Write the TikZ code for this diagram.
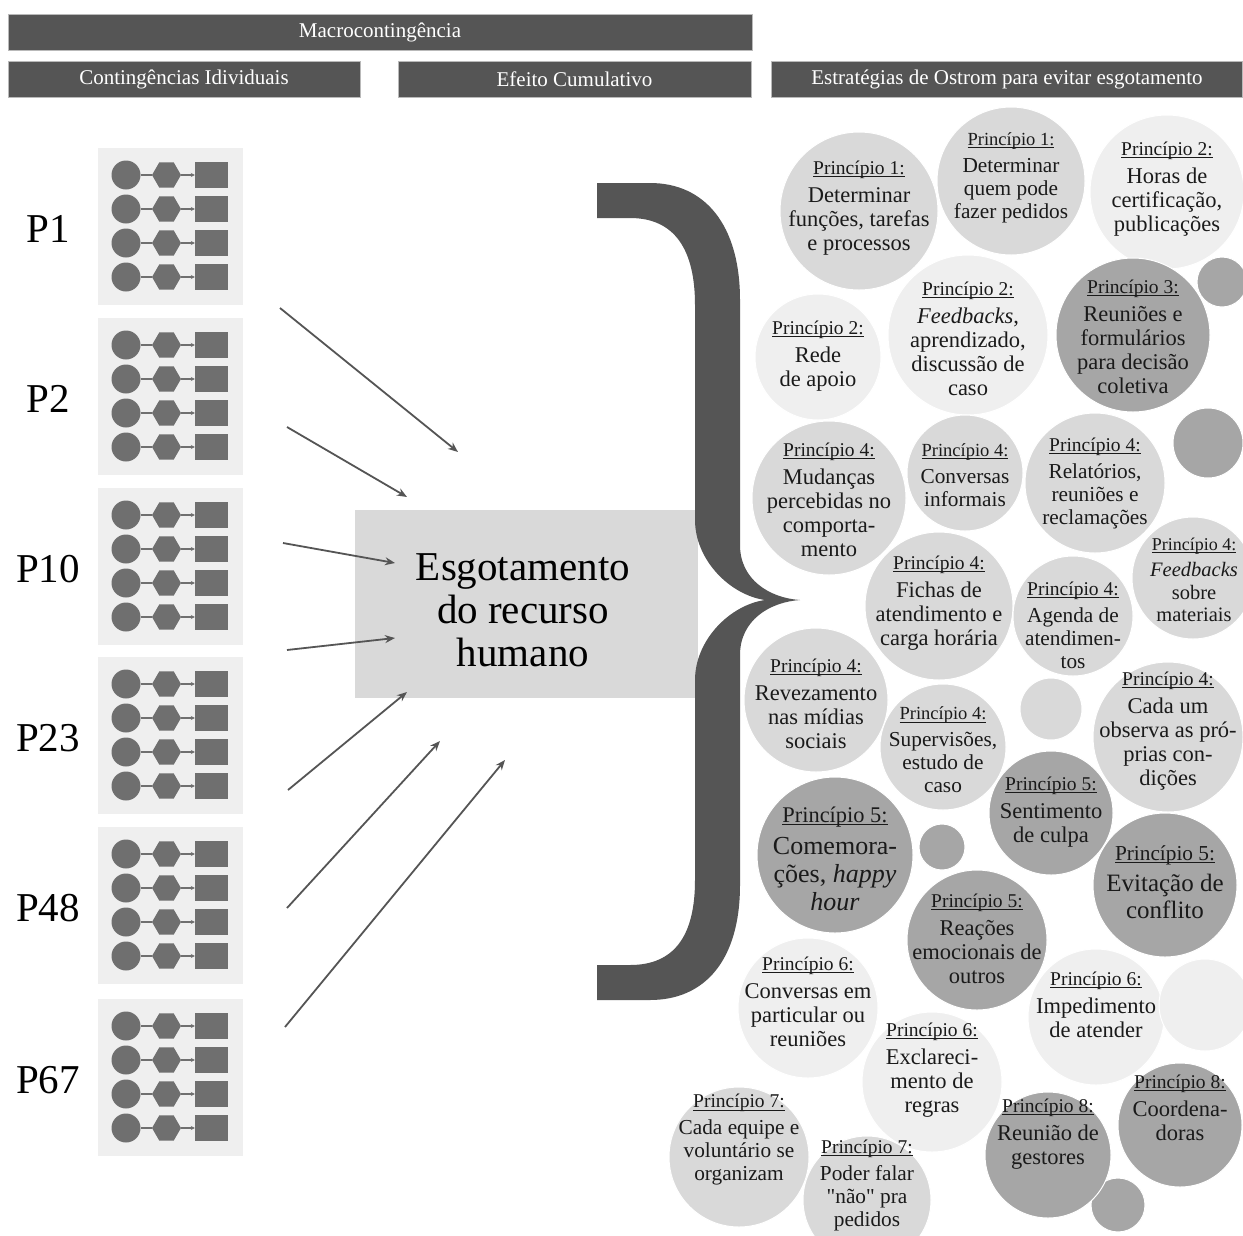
\documentclass[tikz,border=0pt]{standalone}
\usepackage{fontspec}
\setmainfont{Liberation Serif}
\newfontfamily\rawserif{Liberation Serif}
\usetikzlibrary{shapes.geometric,arrows.meta}
\definecolor{dk}{HTML}{555555}
\definecolor{ca}{HTML}{EFEFEF}
\definecolor{cb}{HTML}{D9D9D9}
\definecolor{cc}{HTML}{A6A6A6}
\definecolor{shp}{HTML}{6F6F6F}
\definecolor{pbg}{HTML}{EFEFEF}
\definecolor{txt}{HTML}{1A1A1A}
\newcommand\ulx[1]{\leavevmode\setbox0\hbox{#1}\rlap{\rule[-2.6pt]{\wd0}{0.9pt}}\box0}
\newcommand\ptl[2][19.5]{{\fontsize{#1}{#1}\selectfont\ulx{Princípio #2:}}\\[4pt]}
\newcommand\sq{{\rawserif"}}
\tikzset{
  hdr/.style={rectangle, fill=dk, draw=gray!55, line width=0.8pt, text=white, inner sep=0pt,
    font=\fontsize{21}{23}\selectfont, minimum height=36pt},
  pbox/.style={rectangle, fill=pbg, minimum width=145pt, minimum height=157pt, inner sep=0pt},
  plabel/.style={font=\fontsize{41}{43}\selectfont, inner sep=0pt},
  pc/.style={circle, fill=shp, minimum size=29pt, inner sep=0pt},
  ph/.style={regular polygon, regular polygon sides=6, fill=shp, minimum size=29pt, inner sep=0pt},
  ps/.style={rectangle, fill=shp, minimum width=33pt, minimum height=26pt, inner sep=0pt},
  plink/.style={draw=shp, line width=1.5pt},
  parr/.style={plink, -{Stealth[length=4pt,width=4pt]}},
  bigarr/.style={draw=dk, line width=1.8pt, -{Stealth[length=10pt,width=8pt]}},
  bub/.style={circle, fill=#1, draw=white, line width=1pt, inner sep=0pt},
  btxt/.style={align=center, text=txt, inner sep=0pt, font=\fontsize{22.5}{24}\selectfont},
  btxs/.style={align=center, text=txt, inner sep=0pt, font=\fontsize{21.3}{23}\selectfont},
}
\newcommand\pgrp[3]{%
  \node[pbox] (#1box) at (170.5, #3+78.5) {};
  \node[plabel] (#1lab) at (48, #3+81) {#2};
  \foreach \rr/\ddy in {1/27,2/61,3/95,4/129}{
    \node[pc] (#1c\rr) at (126, #3+\ddy) {};
    \node[ph] (#1h\rr) at (166.5, #3+\ddy) {};
    \node[ps] (#1s\rr) at (211.5, #3+\ddy) {};
    \draw[plink] (#1c\rr) -- (#1h\rr);
    \draw[parr] (#1h\rr) -- (#1s\rr);
  }
}
\begin{document}
\begin{tikzpicture}[x=1pt,y=-1pt]
\fill[white] (0,0) rectangle (1243,1235);
\useasboundingbox (0,0) rectangle (1243,1235);

% headers
\node[hdr, minimum width=744pt] (macro) at (380,32) {Macrocontingência};
\node[hdr, minimum width=352pt] (indiv) at (184,79) {Contingências Idividuais};
\node[hdr, minimum width=353pt] (cumul) at (574.5,79) {Efeito Cumulativo};
\node[hdr, minimum width=471pt] (ostrom) at (1007,79) {Estratégias de Ostrom para evitar esgotamento};

% individual contingencies
\pgrp{pa}{P1}{148}
\pgrp{pb}{P2}{318}
\pgrp{pc}{P10}{488}
\pgrp{pd}{P23}{657}
\pgrp{pe}{P48}{827}
\pgrp{pf}{P67}{999}

% central box
\node[rectangle, fill=cb, minimum width=343pt, minimum height=188pt, inner sep=0pt] (hum) at (526.5,604) {};
\node[align=center, inner sep=0pt, font=\fontsize{41}{43}\selectfont] (humt) at (523,610) {Esgotamento\\do recurso\\humano};

% arrows
\coordinate (a1s) at (280,308); \coordinate (a1e) at (458,452);
\coordinate (a2s) at (287,427); \coordinate (a2e) at (407,497);
\coordinate (a3s) at (283,543); \coordinate (a3e) at (395,563);
\coordinate (a4s) at (287,650); \coordinate (a4e) at (395,638);
\coordinate (a5s) at (288,790); \coordinate (a5e) at (407,692);
\coordinate (a6s) at (287,908); \coordinate (a6e) at (440,741);
\coordinate (a7s) at (285,1027); \coordinate (a7e) at (505,760);
\foreach \k in {1,...,7}{\draw[bigarr] (a\k s) -- (a\k e);}

% brace
\fill[dk] (597,183) -- (650,183) .. controls (705,183) and (740,225) .. (740,300)
  -- (740,545) .. controls (740,580) and (770,598) .. (800,600)
  .. controls (770,602) and (740,620) .. (740,655)
  -- (740,885) .. controls (740,960) and (705,1000) .. (650,1000)
  -- (597,1000) -- (597,965) -- (630,965) .. controls (675,965) and (695,935) .. (695,880)
  -- (695,680) .. controls (695,640) and (730,605) .. (765,600)
  .. controls (730,595) and (695,560) .. (695,520)
  -- (695,305) .. controls (695,250) and (675,218) .. (630,218) -- (597,218) -- cycle;

% bubbles
\node[bub=cb, minimum size=158pt] (b1) at (859,211) {};
\node[btxt] (t1) at (859,208) {\ptl{1}Determinar\\funções, tarefas\\e processos};
\node[bub=cb, minimum size=148pt] (b2) at (1011,181) {};
\node[btxs] (t2) at (1011,178) {\ptl[18.5]{1}Determinar\\quem pode\\fazer pedidos};
\node[bub=ca, minimum size=154pt] (b3) at (1167,192) {};
\node[btxt] (t3) at (1167,189) {\ptl{2}Horas de\\certificação,\\publicações};
\node[bub=cc, minimum size=50pt] (b4) at (1222,282) {};
\node[bub=ca, minimum size=126pt] (b5) at (818,357) {};
\node[btxt] (t5) at (818,356) {\ptl{2}Rede\\de apoio};
\node[bub=ca, minimum size=160pt] (b6) at (968,335) {};
\node[btxt] (t6) at (968,339) {\ptl{2}\textit{Feedbacks},\\aprendizado,\\discussão de\\caso};
\node[bub=cc, minimum size=154pt] (b7) at (1133,335) {};
\node[btxt] (t7) at (1133,337) {\ptl{3}Reuniões e\\formulários\\para decisão\\coletiva};
\node[bub=cc, minimum size=70pt] (b8) at (1208,443) {};
\node[bub=cb, minimum size=154pt] (b9) at (829,498) {};
\node[btxt] (t9) at (829,500) {\ptl{4}Mudanças\\percebidas no\\comporta-\\mento};
\node[bub=cb, minimum size=116pt] (b10) at (965,473) {};
\node[btxs] (t10) at (965,475) {\ptl[18.5]{4}Conversas\\informais};
\node[bub=cb, minimum size=140pt] (b11) at (1095,483) {};
\node[btxs] (t11) at (1095,483) {\ptl{4}Relatórios,\\reuniões e\\reclamações};
\node[bub=cb, minimum size=122pt] (b12) at (1193,578) {};
\node[align=center, text=txt, inner sep=0pt, font=\fontsize{20.5}{22.5}\selectfont] (t12) at (1194,580) {\ptl[18]{4}\textit{Feedbacks}\\sobre\\materiais};
\node[bub=cb, minimum size=148pt] (b13) at (939,606) {};
\node[btxt] (t13) at (939,603) {\ptl{4}Fichas de\\atendimento e\\carga horária};
\node[bub=cb, minimum size=120pt] (b14) at (1073,616) {};
\node[btxs] (t14) at (1073,625) {\ptl{4}Agenda de\\atendimen-\\tos};
\node[bub=cb, minimum size=144pt] (b15) at (816,700) {};
\node[btxt] (t15) at (816,704) {\ptl{4}Revezamento\\nas mídias\\sociais};
\node[bub=cb, minimum size=62pt] (b16) at (1051,709) {};
\node[bub=cb, minimum size=150pt] (b17) at (1168,737) {};
\node[btxt] (t17) at (1168,731) {\ptl{4}Cada um\\observa as pró-\\prias con-\\dições};
\node[bub=cb, minimum size=126pt] (b18) at (943,747) {};
\node[btxs] (t18) at (943,750) {\ptl[18.5]{4}Supervisões,\\estudo de\\caso};
\node[bub=cc, minimum size=124pt] (b19) at (1051,813) {};
\node[btxt] (t19) at (1051,812) {\ptl{5}Sentimento\\de culpa};
\node[bub=cc, minimum size=156pt] (b20) at (835,855) {};
\node[align=center, text=txt, inner sep=0pt, font=\fontsize{26}{28}\selectfont] (t20) at (835,859) {\ptl[22.4]{5}Comemora-\\ções, \textit{happy}\\\textit{hour}};
\node[bub=cc, minimum size=46pt] (b21) at (942,847) {};
\node[bub=cc, minimum size=144pt] (b22) at (1165,885) {};
\node[align=center, text=txt, inner sep=0pt, font=\fontsize{25}{27}\selectfont] (t22) at (1165,882) {\ptl[21.3]{5}Evitação de\\conflito};
\node[bub=cc, minimum size=140pt] (b23) at (977,940) {};
\node[btxt] (t23) at (977,939) {\ptl{5}Reações\\emocionais de\\outros};
\node[bub=ca, minimum size=140pt] (b24) at (808,1008) {};
\node[btxt] (t24) at (808,1002) {\ptl{6}Conversas em\\particular ou\\reuniões};
\node[bub=ca, minimum size=136pt] (b25) at (1096,1017) {};
\node[btxt] (t25) at (1096,1005) {\ptl{6}Impedimento\\de atender};
\node[bub=ca, minimum size=92pt] (b26) at (1205,1005) {};
\node[bub=ca, minimum size=140pt] (b27) at (932,1082) {};
\node[btxt] (t27) at (932,1070) {\ptl{6}Exclareci-\\mento de\\regras};
\node[bub=cc, minimum size=54pt] (b30) at (1118,1205) {};
\node[bub=cc, minimum size=126pt] (b28) at (1048,1155) {};
\node[btxt] (t28) at (1048,1134) {\ptl{8}Reunião de\\gestores};
\node[bub=cc, minimum size=124pt] (b29) at (1180,1125) {};
\node[btxt] (t29) at (1180,1108) {\ptl{8}Coordena-\\doras};
\node[bub=cb, minimum size=140pt] (b31) at (739,1157) {};
\node[btxs] (t31) at (739,1140) {\ptl{7}Cada equipe e\\voluntário se\\organizam};
\node[bub=cb, minimum size=128pt] (b32) at (867,1200) {};
\node[btxs] (t32) at (867,1185) {\ptl{7}Poder falar\\\sq não\sq{} pra\\pedidos};
\end{tikzpicture}
\end{document}
